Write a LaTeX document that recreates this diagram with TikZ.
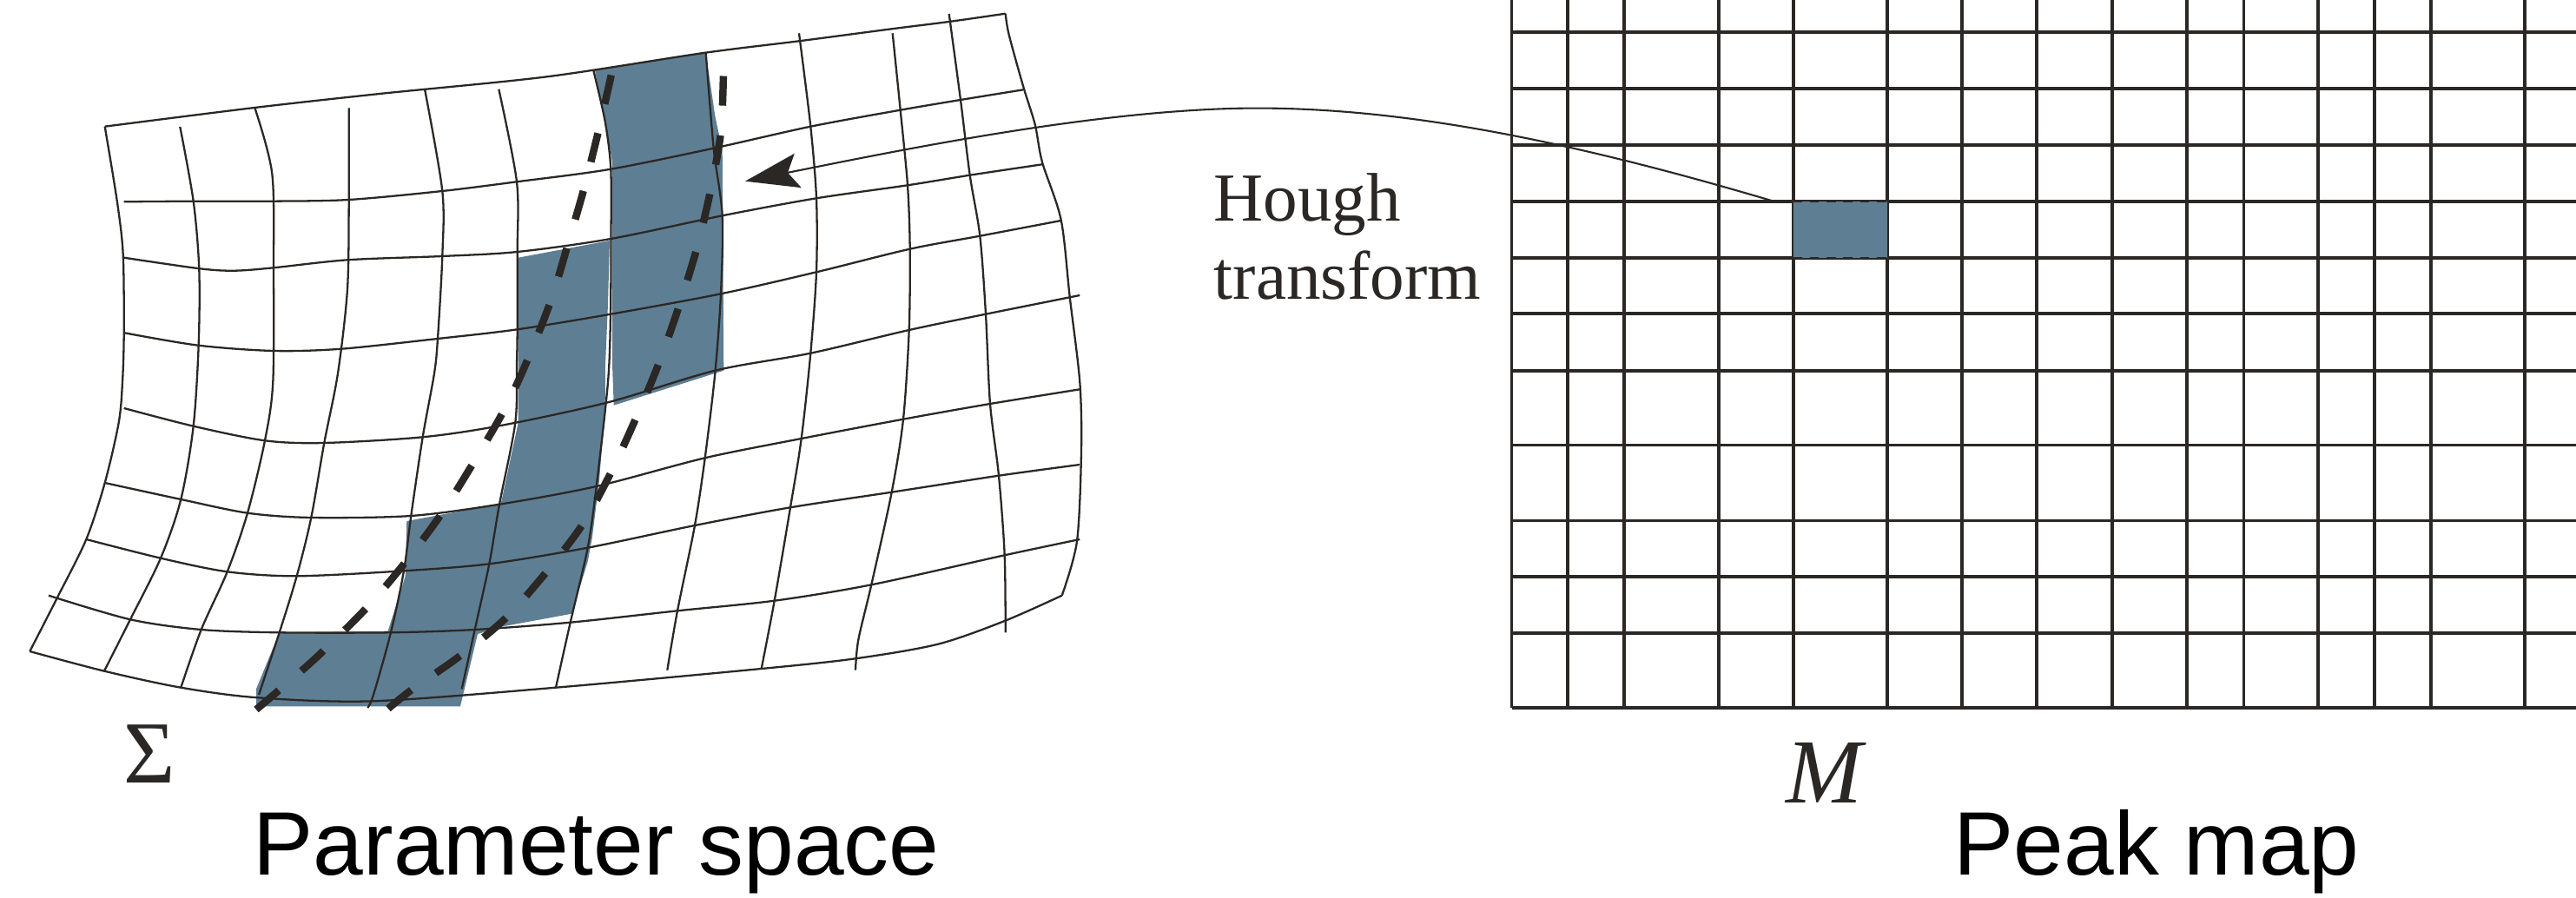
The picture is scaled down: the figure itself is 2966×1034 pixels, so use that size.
\documentclass[tikz,border=0pt]{standalone}
\usepackage{fontspec}
\setmainfont{Liberation Serif}
\newfontfamily\titlefont{Liberation Sans}
\usetikzlibrary{arrows.meta}
\definecolor{ink}{HTML}{2B2724}
\definecolor{bandblue}{HTML}{5E7E93}
\begin{document}
\begin{tikzpicture}[x=0.01cm,y=-0.01cm,
  gridline/.style={draw=ink, line width=0.65pt, line join=round},
  pmline/.style={draw=ink, line width=0.9pt},
  pathdash/.style={draw=ink, line width=2.4pt, dash pattern=on 9.7pt off 9.8pt},
  band/.style={fill=bandblue, draw=none},
  lbl/.style={anchor=base west, inner sep=0pt, text=ink},
  title/.style={anchor=base west, inner sep=0pt, text=black, font=\titlefont\fontsize{29.5}{34}\selectfont}
]
\useasboundingbox (0,0) rectangle (2966,1034);

% ---------- shaded band in parameter space ----------
\fill[band] (685,81) -- (812.7,61) -- (823.3,133.3) -- (831.7,173.3) -- (833.3,426.7)
  -- (706.7,466.7) -- (705,420) -- (705,186.7) -- (696.7,140) -- cycle;
\fill[band] (596.7,296.7) -- (702,277) -- (700,350) -- (697,420) -- (696.7,466.7)
  -- (690,553.3) -- (681.7,620) -- (676.7,646.7) -- (658.3,706.7) -- (576.7,721.7)
  -- (550,730) -- (530,813.3) -- (295,813.3) -- (295,793.3) -- (321.7,728.3)
  -- (446.7,726.7) -- (466.7,663.3) -- (468.3,600) -- (576.7,580) -- (596.7,486.7) -- cycle;

% ---------- warped grid: "horizontal" lines ----------
\draw[gridline] plot[smooth, tension=0.5] coordinates {(120.7,145.7) (293,124) (440,107.7) (630,88.3) (810,61) (920,47.3) (1026.7,33.3) (1092.7,25) (1157.7,15.7)};
\draw[gridline] plot[smooth, tension=0.5] coordinates {(142.7,232.3) (222.7,231.7) (313,231.7) (401.7,230) (509.3,220) (595,209.3) (701.7,195) (821.7,170.7) (933.3,145.7) (1036.7,126.7) (1106,115) (1178.3,103.3)};
\draw[gridline] plot[smooth, tension=0.5] coordinates {(142.7,296.7) (230,309.3) (270,311.7) (315,308.3) (400,299.3) (509.3,295) (595.7,290) (703.3,275) (831.7,248.3) (940,228.3) (1045,213.3) (1116.7,201.7) (1200,189.3)};
\draw[gridline] plot[smooth, tension=0.5] coordinates {(143.3,383.3) (228.3,397.7) (315,404) (393.3,401.7) (504,390) (595.7,379.3) (703.3,361.7) (830,338.3) (940,313.3) (1047.7,286.7) (1128.3,271.7) (1221.7,254)};
\draw[gridline] plot[smooth, tension=0.5] coordinates {(142.7,470) (222.7,490.7) (305,507.3) (373.3,510) (486.7,503.3) (576.7,490) (700,463.3) (823.3,426.7) (933.3,406.7) (1046.7,380) (1135,361.7) (1243.3,340)};
\draw[gridline] plot[smooth, tension=0.5] coordinates {(120.7,556) (208.3,575) (285,590.7) (358.3,596) (473.3,594) (575,580.7) (686.7,560) (811.7,527.3) (922.7,505) (1040,482.7) (1140,465) (1243.3,448.3)};
\draw[gridline] plot[smooth, tension=0.5] coordinates {(99.3,621) (185,642.7) (261.7,658.3) (341.7,663.3) (465,657.3) (563.3,649.3) (676.7,630.7) (800,605) (910,584.3) (1026.7,566.7) (1150,547.7) (1243.3,535)};
\draw[gridline] plot[smooth, tension=0.5] coordinates {(56,685.7) (150,713.3) (231.7,725) (321.7,728.3) (450,728.3) (546.7,725) (656.7,716.7) (780,703.3) (891.7,691.7) (1003.3,673.3) (1156.7,639.3) (1243.3,621)};
\draw[gridline] plot[smooth, tension=0.5] coordinates {(34.3,750) (120,772.7) (208.3,791.7) (296.7,803.3) (430,807.3) (640,791.7) (876.7,770) (985,758.3) (1080,741.7) (1156.7,715) (1222.7,685.7)};

% ---------- warped grid: "vertical" lines ----------
\draw[gridline] plot[smooth, tension=0.5] coordinates {(120.7,145.7) (135,233) (141.7,293) (142.7,383) (141,440) (136.7,486.7) (120.7,556) (99.3,621) (66.7,686.7) (34.3,750)};
\draw[gridline] plot[smooth, tension=0.5] coordinates {(207.3,146) (222.7,231.7) (229.3,310) (228.7,396.7) (222.7,490.7) (208.3,575) (185,642.7) (150,713.3) (120,772.7)};
\draw[gridline] plot[smooth, tension=0.5] coordinates {(293.3,124) (313.3,200) (315,310) (314.3,440) (305,507.3) (285,590.7) (261.7,658.3) (231.7,725) (208.3,791.7)};
\draw[gridline] plot[smooth, tension=0.5] coordinates {(401.7,124.3) (401.7,230) (400,333) (389,430) (373.3,510) (358.3,596) (341.7,663.3) (321.7,728.3) (298,800)};
\draw[gridline] plot[smooth, tension=0.5] coordinates {(489.3,104) (509.3,220) (509.3,295) (504,390) (500,430) (486.7,503.3) (473.3,594) (465,657.3) (450,728.3) (430,800) (423.3,815)};
\draw[gridline] plot[smooth, tension=0.5] coordinates {(574.3,102.7) (595,209.3) (595.7,290) (595.7,379.3) (595,420) (593.3,486.7) (575,580.7) (563.3,649.3) (546.7,725) (531.7,793.3)};
\draw[gridline] plot[smooth, tension=0.5] coordinates {(683.3,81) (696.7,140) (703.3,195) (703.5,275) (703,362) (700,440) (686.7,560) (676.7,630.7) (656.7,716.7) (640,791.7)};
\draw[gridline] plot[smooth, tension=0.5] coordinates {(812.7,61) (821.7,170.7) (831.7,248.3) (830,338.3) (823.3,430) (811.7,527.3) (800,605) (780,703.3) (768.3,771.7)};
\draw[gridline] plot[smooth, tension=0.5] coordinates {(920,38.3) (933.3,145.7) (940,228.3) (940,313.3) (933.3,406.7) (922.7,505) (910,584.3) (891.7,691.7) (876.7,770)};
\draw[gridline] plot[smooth, tension=0.5] coordinates {(1027.7,38.3) (1036.7,126.7) (1045,213.3) (1047.7,286.7) (1046.7,380) (1040,482.7) (1026.7,566.7) (1003.3,673.3) (988.3,736.7) (985,771.7)};
\draw[gridline] plot[smooth, tension=0.5] coordinates {(1092.7,16) (1106,115) (1116.7,201.7) (1128.3,271.7) (1135,361.7) (1140,465) (1150,547.7) (1156.7,639.3) (1157.7,728.3)};
\draw[gridline] plot[smooth, tension=0.5] coordinates {(1157.7,15.7) (1161.7,40) (1178.3,100) (1191.7,143.3) (1200,186.7) (1221.7,253.3) (1231.7,341.7) (1243.3,440) (1245,520) (1240,623.3) (1222.7,685.7)};

% ---------- dashed curves ----------
\draw[pathdash] plot[smooth, tension=0.5] coordinates {(295,817) (360,761) (422,700) (467,647) (508,592) (545,533) (580,473) (605,420) (634,347) (654,281) (673,215) (690,147) (705,81)};
\draw[pathdash] plot[smooth, tension=0.5] coordinates {(447,816) (473,795) (530,755) (582,712) (628,660) (670,605) (703,545) (732,482) (758,420) (782,352) (802,287) (818,220) (830,152) (833,82)};

% ---------- peak map grid ----------
\foreach \x in {1740.7,1805,1870,1979,2065,2173,2259,2345,2432,2518,2583.4,2669,2734,2799,2907}
  \draw[pmline] (\x,0) -- (\x,815);
\foreach \y in {37,102,167,232,297,361,427,512.6,599.6,664,729,815}
  \draw[pmline] (1740.7,\y) -- (2966,\y);

% highlighted cell
\node[fill=bandblue, draw=none, inner sep=0pt, minimum width=1.08cm, minimum height=0.65cm] (peak) at (2119,264.5) {};
\draw[ink, line width=0.7pt, dash pattern=on 3pt off 2.5pt] (peak.north west) -- (peak.north east);
\draw[ink, line width=0.7pt, dash pattern=on 3pt off 2.5pt] (peak.south west) -- (peak.south east);

% ---------- Hough transform connector ----------
\coordinate (hstart) at (2043,232);
\coordinate (arrowtip) at (858,208.7);
\draw[ink, line width=0.6pt, -{Stealth[length=17.6pt, width=11.4pt, inset=3.4pt]}]
  (hstart) .. controls (1800,160) and (1600,120) .. (1417,125)
  .. controls (1250,130) and (1050,170) .. (arrowtip);

% ---------- labels ----------
\node[lbl, font=\fontsize{22.5}{27}\selectfont] (hough) at (1397,255) {Hough};
\node[lbl, font=\fontsize{22.5}{27}\selectfont] (transform) at (1397,345) {transform};
\node[lbl, font=\fontsize{29}{33}\selectfont] (sigma) at (142,902) {Σ};
\node[lbl, font=\fontsize{30}{34}\selectfont\itshape] (mlabel) at (2056,924) {M};
\node[title] (ptitle) at (291,1008) {Parameter space};
\node[title] (ktitle) at (2249,1008) {Peak map};
\end{tikzpicture}
\end{document}
